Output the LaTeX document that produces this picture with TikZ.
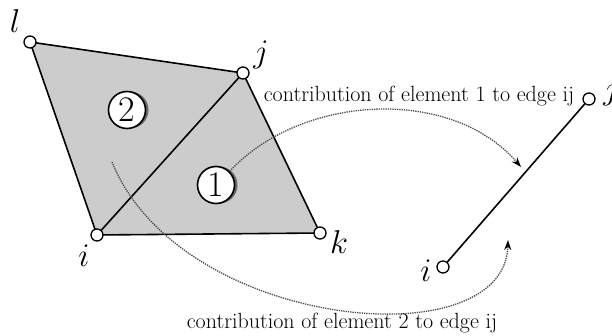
\RequirePackage{fix-cm}
\documentclass[tikz,border=0pt]{standalone}
\usetikzlibrary{arrows.meta,calc}
\begin{document}
\begin{tikzpicture}[x=1pt,y=-1pt,
  vtx/.style={circle,draw,fill=white,minimum size=12pt,inner sep=0pt,line width=1.3pt},
  lbl/.style={inner sep=0pt,font=\fontsize{33}{36}\selectfont},
  elem/.style={circle,draw,fill=white,minimum size=37pt,inner sep=0pt,line width=1.6pt,font=\fontsize{36}{38}\selectfont},
  elemshadow/.style={circle,fill=black!60,minimum size=37pt,inner sep=0pt},
  edge/.style={line width=1.6pt},
  contrib/.style={densely dotted,black!70,line width=1.3pt,-{Stealth[length=10pt,width=7pt,black]}},
  note/.style={inner sep=0pt,font=\fontsize{22}{24}\selectfont}]
\useasboundingbox (0,0) rectangle (612,336);
% vertices
\coordinate (pl) at (30,42);
\coordinate (pj) at (243,73);
\coordinate (pi) at (97,235);
\coordinate (pk) at (320,233);
\fill[black!20] (pl) -- (pj) -- (pk) -- (pi) -- cycle;
\draw[edge] (pl) -- (pj) -- (pk) -- (pi) -- cycle;
\draw[edge] (pi) -- (pj);
\node[vtx] (l) at (pl) {};
\node[vtx] (j) at (pj) {};
\node[vtx] (i) at (pi) {};
\node[vtx] (k) at (pk) {};
\node[lbl] (ll) at (15,21) {$l$};
\node[lbl] (jl) at (261,55) {$j$};
\node[lbl] (il) at (84,256) {$i$};
\node[lbl] (kl) at (339,242) {$k$};
% element markers
\node[elemshadow] (s2) at (130,110) {};
\node[elem] (e2) at (127,110) {2};
\node[elemshadow] (s1) at (219,185) {};
\node[elem] (e1) at (216,185) {1};
% edge ij
\node[vtx] (i2) at (443,267) {};
\node[vtx] (j2) at (589,99) {};
\draw[edge] (i2) -- (j2);
\node[lbl] (i2l) at (426,271) {$i$};
\node[lbl] (j2l) at (611,92) {$j$};
% contributions
\coordinate (t1) at (521,167);
\coordinate (t2) at (508,240);
\coordinate (s2a) at (112,162);
\draw[contrib] (e1.45) .. controls (300,95) and (450,85) .. (t1);
\draw[contrib] (s2a) .. controls (180,330) and (505,360) .. (t2);
\node[note] (n1) at (419,96) {contribution of element 1 to edge ij};
\node[note] (n2) at (342,323) {contribution of element 2 to edge ij};
\end{tikzpicture}
\end{document}
